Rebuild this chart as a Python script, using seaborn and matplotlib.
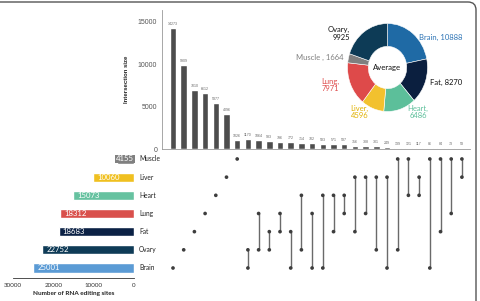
import matplotlib
matplotlib.use("Agg")
import matplotlib.pyplot as plt
from matplotlib.patches import FancyBboxPatch
import seaborn as sns
import pandas as pd

# ---------------- data ----------------
sets = ["Brain", "Ovary", "Fat", "Lung", "Heart", "Liver", "Muscle"]
set_sizes = [25001, 22752, 18683, 18312, 15073, 10060, 4155]
set_colors = ["#5b9bd5", "#0f3b57", "#0b2145", "#d9504c", "#66c2a0", "#f0c020", "#808080"]

intersection_sizes = [14273, 9909, 7010, 6612, 5377, 4096, 1026, 1170, 1064, 983,
                      796, 772, 714, 702, 583, 571, 537, 356, 308, 301,
                      249, 139, 121, 117, 86, 84, 73, 53]
intersection_members = [
    ["Brain"], ["Ovary"], ["Fat"], ["Lung"], ["Heart"], ["Liver"], ["Muscle"],
    ["Ovary", "Brain"], ["Lung", "Ovary"], ["Fat", "Ovary"], ["Lung", "Fat"],
    ["Fat", "Brain"], ["Heart", "Ovary"], ["Lung", "Brain"], ["Heart", "Brain"],
    ["Heart", "Fat"], ["Heart", "Lung"], ["Liver", "Fat"], ["Liver", "Lung"],
    ["Liver", "Ovary"], ["Liver", "Brain"], ["Muscle", "Ovary"], ["Muscle", "Heart"],
    ["Liver", "Heart"], ["Muscle", "Brain"], ["Muscle", "Fat"], ["Muscle", "Lung"],
    ["Muscle", "Liver"],
]

avg_labels = ["Brain", "Fat", "Heart", "Liver", "Lung", "Muscle ", "Ovary"]
avg_values = [10888, 8270, 6486, 4596, 7971, 1664, 9925]
avg_colors = ["#1f6aa5", "#0b1f3f", "#5cbf9a", "#f2c12e", "#de4a4a", "#7f7f7f", "#0d3b56"]

# ---------------- figure ----------------
sns.set_style("white")
plt.rcParams["font.family"] = ["Liberation Sans", "DejaVu Sans"]
W, H = 480, 301
fig = plt.figure(figsize=(W / 100, H / 100), dpi=100)


def ax_px(l, t, r, b):
    return fig.add_axes([l / W, 1 - b / H, (r - l) / W, (b - t) / H])


col_x0, col_dx = 173, 10.7
xlim = ((162 - col_x0) / col_dx, (470 - col_x0) / col_dx)
row_y0, row_dy = 268, 18.17
positions = list(range(len(intersection_sizes)))
rows = list(range(len(sets)))

# ---- top intersection bar chart ----
ax_top = ax_px(162, 10, 470, 149)
sns.barplot(x=positions, y=intersection_sizes, native_scale=True, color="#4d4d4d",
            width=0.6, saturation=1, ax=ax_top)
ax_top.set_xlim(*xlim)
ax_top.set_ylim(0, (149 - 10) / 127 * 15000)
for i, v in zip(positions, intersection_sizes):
    ax_top.text(i, v + 250, str(v), ha="center", va="bottom", fontsize=2.6, color="#666666")
ax_top.set_yticks([0, 5000, 10000, 15000])
ax_top.set_yticklabels(["0", "5000", "10000", "15000"], fontsize=5, color="#555555")
ax_top.set_xticks([])
ax_top.set_xlabel("")
ax_top.set_ylabel("Intersection size", fontsize=4.3, fontweight="bold", color="#222222", labelpad=6)
ax_top.tick_params(axis="y", length=2, width=0.5, color="#888888", pad=1.5)
for s in ["top", "right"]:
    ax_top.spines[s].set_visible(False)
for s in ["left", "bottom"]:
    ax_top.spines[s].set_color("#999999")
    ax_top.spines[s].set_linewidth(0.6)

# ---- matrix ----
ax_m = ax_px(162, 150, 470, 279)
pts = []
for i, mem in enumerate(intersection_members):
    rs = [sets.index(m) for m in mem]
    if len(rs) > 1:
        ax_m.vlines(i, min(rs), max(rs), color="#6a6a6a", lw=1.0, zorder=1)
    for r in rs:
        pts.append({"x": i, "y": r})
pts = pd.DataFrame(pts)
sns.scatterplot(data=pts, x="x", y="y", s=7, color="#3d3d3d", edgecolor="none", ax=ax_m, zorder=2)
ax_m.set_xlim(*xlim)
ax_m.set_ylim((row_y0 - 279) / row_dy, (row_y0 - 150) / row_dy)
ax_m.axis("off")
label_x = (139 - col_x0) / col_dx
for r, name in zip(rows, sets):
    ax_m.text(label_x, r, name, ha="left", va="center", fontsize=4.8, color="#222222",
              family="Lato", clip_on=False)

# ---- left set-size bars ----
ax_l = ax_px(13, 150, 134, 278)
sns.barplot(x=set_sizes, y=rows, orient="h", native_scale=True, hue=sets, palette=set_colors,
            legend=False, width=0.5, saturation=1, ax=ax_l)
ax_l.set_xlim(30000, 0)
ax_l.set_ylim((row_y0 - 278) / row_dy, (row_y0 - 150) / row_dy)
for r, v, c in zip(rows, set_sizes, set_colors):
    if v > 8000:
        ax_l.text(v - 1000, r, str(v), ha="left", va="center",
                  fontsize=5.6, color="white", family="Lato")
    else:
        ax_l.text(0, r, str(v), ha="right", va="center", fontsize=5.6, color="white",
                  family="Lato", bbox=dict(facecolor=c, edgecolor="none", pad=0.6))
ax_l.set_yticks([])
ax_l.set_ylabel("")
ax_l.set_xticks([30000, 20000, 10000, 0])
ax_l.set_xticklabels(["30000", "20000", "10000", "0"], fontsize=4.5, color="#333333", family="Lato")
ax_l.tick_params(axis="x", length=2, width=0.6, color="#333333", pad=1.5)
ax_l.set_xlabel("Number of RNA editing sites", fontsize=4.6, fontweight="bold",
                color="#222222", family="Lato", labelpad=2)
for s in ["top", "right", "left"]:
    ax_l.spines[s].set_visible(False)
ax_l.spines["bottom"].set_color("#333333")
ax_l.spines["bottom"].set_linewidth(0.6)

# ---- donut ----
cx, cy, RX, RY = 387.5, 67.5, 40, 44
ax_d = ax_px(cx - RX, cy - RY, cx + RX, cy + RY)
ax_d.pie(avg_values, colors=avg_colors, startangle=90, counterclock=False, radius=1,
         wedgeprops=dict(width=0.52, edgecolor="white", linewidth=0.4))
ax_d.set_aspect("auto")
ax_d.set_xlim(-1, 1)
ax_d.set_ylim(-1, 1)
ax_d.text(0, 0, "Average", ha="center", va="center", fontsize=5.6, family="Lato", color="#111111")
lab_kw = dict(fontsize=5.5, family="Lato", clip_on=False, linespacing=1.1)
ax_d.text(0.79, 0.69, "Brain, 10888", ha="left", va="center", color="#2e75b6", **lab_kw)
ax_d.text(1.06, -0.35, "Fat, 8270", ha="left", va="center", color="#111111", **lab_kw)
ax_d.text(0.76, -1.01, "Heart,\n6486", ha="center", va="center", color="#5cbf9a", **lab_kw)
ax_d.text(-0.70, -1.01, "Liver,\n4596", ha="center", va="center", color="#e0b000", **lab_kw)
ax_d.text(-1.21, -0.40, "Lung,\n7971", ha="right", va="center", color="#de4a4a", **lab_kw)
ax_d.text(-1.11, 0.22, "Muscle , 1664", ha="right", va="center", color="#7f7f7f", **lab_kw)
ax_d.text(-0.94, 0.78, "Ovary,\n9925", ha="right", va="center", color="#111111", **lab_kw)
ax_d.axis("off")

# ---- frame (top/right edges with rounded corner) ----
frame = FancyBboxPatch((-20, -20), 476 + 20, 299 + 20,
                       boxstyle="round,pad=0,rounding_size=8", transform=None,
                       fill=False, edgecolor="#555555", linewidth=1.0)
fig.patches.append(frame)

fig.savefig("out.png", dpi=100)
